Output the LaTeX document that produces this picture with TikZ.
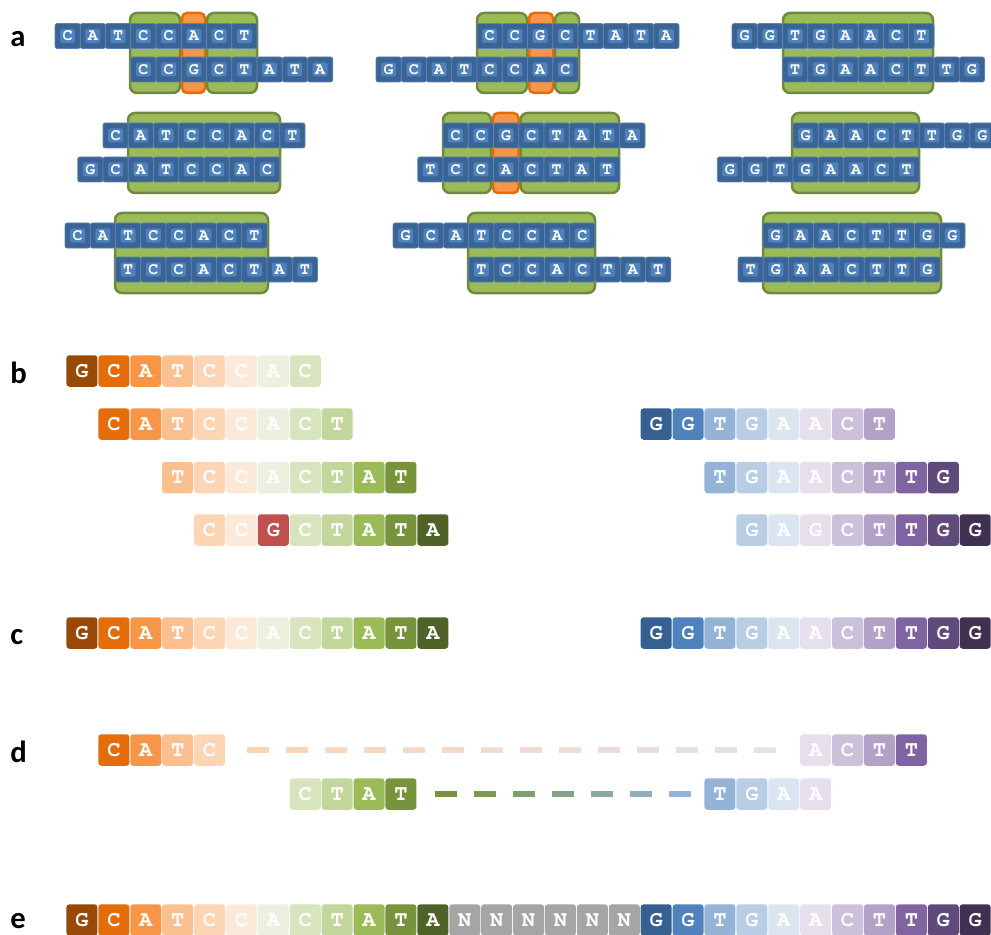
\documentclass[tikz,border=0pt]{standalone}
\usepackage{fontspec}
\setmainfont{Carlito}
\newfontfamily\basefont{TeX Gyre Cursor}
\usetikzlibrary{calc}

\newlength{\du}
\setlength{\du}{0.75pt}

% office palette
\definecolor{or1}{HTML}{984807}
\definecolor{or2}{HTML}{E46C0A}
\definecolor{or3}{HTML}{F79646}
\definecolor{or4}{HTML}{FAC090}
\definecolor{or5}{HTML}{FCD5B5}
\definecolor{or6}{HTML}{FDE9D9}
\definecolor{gr1}{HTML}{EBF1DE}
\definecolor{gr2}{HTML}{D7E4BD}
\definecolor{gr3}{HTML}{C3D69B}
\definecolor{gr4}{HTML}{9BBB59}
\definecolor{gr5}{HTML}{77933C}
\definecolor{gr6}{HTML}{4F6228}
\definecolor{bl1}{HTML}{366092}
\definecolor{bl2}{HTML}{4F81BD}
\definecolor{bl3}{HTML}{95B3D7}
\definecolor{bl4}{HTML}{B9CDE5}
\definecolor{bl5}{HTML}{DBE5F1}
\definecolor{pu1}{HTML}{E5E0EC}
\definecolor{pu2}{HTML}{CCC1DA}
\definecolor{pu3}{HTML}{B3A2C7}
\definecolor{pu4}{HTML}{8064A2}
\definecolor{pu5}{HTML}{604A7B}
\definecolor{pu6}{HTML}{403152}
\definecolor{mis}{HTML}{C0504D}
\definecolor{nn}{HTML}{A5A5A5}
\definecolor{readdark}{HTML}{3A6496}
\definecolor{readline}{HTML}{5A82B2}
\definecolor{boxedge}{HTML}{71893F}

\tikzset{
  readcell/.style={fill=readdark, draw=readline, line width=0.6\du, rounded corners=2\du,
    minimum width=25.25\du, minimum height=25\du, inner sep=0pt, text=white,
    font=\basefont\bfseries\fontsize{12.5}{14}\selectfont,
    path picture={\fill[bl2] ([shift={(-7.5\du,-7\du)}]path picture bounding box.center)
      rectangle ([shift={(7.5\du,7\du)}]path picture bounding box.center);}},
  seqcell/.style={rounded corners=3\du, minimum width=31\du, minimum height=31.5\du,
    inner sep=0pt, text=white, font=\basefont\bfseries\fontsize{16.5}{19}\selectfont},
  matchbox/.style={fill=gr4, draw=boxedge, line width=2.5\du, rounded corners=7\du},
  snpbox/.style={fill=or3, draw=or2, line width=2.5\du, rounded corners=5\du},
  panellabel/.style={anchor=base west, inner sep=0pt, font=\bfseries\fontsize{23}{27}\selectfont},
  gapdash/.style={line width=5.5\du},
}

\newcommand{\blueread}[4]{% name, left x, centre y, bases
  \foreach \base [count=\i from 0] in {#4}
    \node[readcell] (#1-\i) at ({#2+(\i+0.5)*25.25},#3) {\base};
}
\newcommand{\colorread}[4]{% name, first slot, centre y, colour/base
  \foreach \col/\base [count=\i from 0] in {#4}
    \node[seqcell, fill=\col] (#1-\i) at ({66+(#2+\i+0.5)*31.9},#3) {\base};
}

\begin{document}
\begin{tikzpicture}[x=\du,y=\du]
\pgftransformxscale{1.000000}
\pgftransformyscale{-1.000000}
\useasboundingbox (0,0) rectangle (991,934);

% a: overlapping reads
\draw[matchbox] (130,13) rectangle (180,93);
\draw[snpbox] (182,13) rectangle (205,93);
\draw[matchbox] (207,13) rectangle (257,93);
\draw[matchbox] (477,13) rectangle (527,93);
\draw[snpbox] (529,13) rectangle (553,93);
\draw[matchbox] (555,13) rectangle (579,93);
\draw[matchbox] (783,13) rectangle (933,93);
\draw[matchbox] (128,113) rectangle (280,193);
\draw[matchbox] (443,113) rectangle (491,193);
\draw[snpbox] (493,113) rectangle (518.5,193);
\draw[matchbox] (520.5,113) rectangle (619,193);
\draw[matchbox] (792,113) rectangle (919,193);
\draw[matchbox] (115,213) rectangle (268,293);
\draw[matchbox] (468,213) rectangle (595,293);
\draw[matchbox] (763,213) rectangle (941,293);

\blueread{ra1}{55}{36}{C,A,T,C,C,A,C,T}
\blueread{ra2}{130.75}{69.5}{C,C,G,C,T,A,T,A}
\blueread{rb1}{477}{36}{C,C,G,C,T,A,T,A}
\blueread{rb2}{376}{69.5}{G,C,A,T,C,C,A,C}
\blueread{rc1}{732}{36}{G,G,T,G,A,A,C,T}
\blueread{rc2}{782.5}{69.5}{T,G,A,A,C,T,T,G}
\blueread{rd1}{103}{135.5}{C,A,T,C,C,A,C,T}
\blueread{rd2}{77.75}{169.5}{G,C,A,T,C,C,A,C}
\blueread{re1}{443}{135.5}{C,C,G,C,T,A,T,A}
\blueread{re2}{417.75}{169.5}{T,C,C,A,C,T,A,T}
\blueread{rf1}{793}{135.5}{G,A,A,C,T,T,G,G}
\blueread{rf2}{717.25}{169.5}{G,G,T,G,A,A,C,T}
\blueread{rg1}{65}{235.5}{C,A,T,C,C,A,C,T}
\blueread{rg2}{115.5}{269.5}{T,C,C,A,C,T,A,T}
\blueread{rh1}{393}{235.5}{G,C,A,T,C,C,A,C}
\blueread{rh2}{468.75}{269.5}{T,C,C,A,C,T,A,T}
\blueread{ri1}{763}{235.5}{G,A,A,C,T,T,G,G}
\blueread{ri2}{738}{269.5}{T,G,A,A,C,T,T,G}

% b: reads coloured by place
\colorread{b1}{0}{371}{or1/G,or2/C,or3/A,or4/T,or5/C,or6/C,gr1/A,gr2/C}
\colorread{b2}{1}{424}{or2/C,or3/A,or4/T,or5/C,or6/C,gr1/A,gr2/C,gr3/T}
\colorread{b3}{3}{477.5}{or4/T,or5/C,or6/C,gr1/A,gr2/C,gr3/T,gr4/A,gr5/T}
\colorread{b4}{4}{530}{or5/C,or6/C,mis/G,gr2/C,gr3/T,gr4/A,gr5/T,gr6/A}
\colorread{b5}{18}{424}{bl1/G,bl2/G,bl3/T,bl4/G,bl5/A,pu1/A,pu2/C,pu3/T}
\colorread{b6}{20}{477.5}{bl3/T,bl4/G,bl5/A,pu1/A,pu2/C,pu3/T,pu4/T,pu5/G}
\colorread{b7}{21}{530}{bl4/G,bl5/A,pu1/G,pu2/C,pu3/T,pu4/T,pu5/G,pu6/G}

% c: contigs
\colorread{c1}{0}{633}{or1/G,or2/C,or3/A,or4/T,or5/C,or6/C,gr1/A,gr2/C,gr3/T,gr4/A,gr5/T,gr6/A}
\colorread{c2}{18}{633}{bl1/G,bl2/G,bl3/T,bl4/G,bl5/A,pu1/A,pu2/C,pu3/T,pu4/T,pu5/G,pu6/G}

% d: read pairs
\colorread{d1l}{1}{750}{or2/C,or3/A,or4/T,or5/C}
\colorread{d1r}{23}{750}{pu1/A,pu2/C,pu3/T,pu4/T}
\colorread{d2l}{7}{794}{gr2/C,gr3/T,gr4/A,gr5/T}
\colorread{d2r}{20}{794}{bl3/T,bl4/G,bl5/A,pu1/A}

\coordinate (g1s) at ($(d1l-3.east)+(22,0)$);
\coordinate (g1e) at ($(d1r-0.west)+(-23,0)$);
\foreach \k in {0,...,13} {
  \pgfmathtruncatemacro\mix{100-\k*100/13}
  \draw[gapdash, draw=or5!\mix!pu1] ($(g1s)!{\k*39/530}!(g1e)$) -- ($(g1s)!{(\k*39+22)/530}!(g1e)$);
}
\coordinate (g2s) at ($(d2l-3.east)+(18,0)$);
\coordinate (g2e) at ($(d2r-0.west)+(-13,0)$);
\foreach \k in {0,...,6} {
  \pgfmathtruncatemacro\mix{100-\k*100/6}
  \draw[gapdash, draw=gr5!\mix!bl3] ($(g2s)!{\k*39/256}!(g2e)$) -- ($(g2s)!{(\k*39+22)/256}!(g2e)$);
}

% e: scaffold
\colorread{e1}{0}{920}{or1/G,or2/C,or3/A,or4/T,or5/C,or6/C,gr1/A,gr2/C,gr3/T,gr4/A,gr5/T,gr6/A,nn/N,nn/N,nn/N,nn/N,nn/N,nn/N,bl1/G,bl2/G,bl3/T,bl4/G,bl5/A,pu1/A,pu2/C,pu3/T,pu4/T,pu5/G,pu6/G}

\node[panellabel] (la) at (10,47) {a};
\node[panellabel] (lb) at (10,383) {b};
\node[panellabel] (lc) at (10,644) {c};
\node[panellabel] (ld) at (10,762) {d};
\node[panellabel] (le) at (10,928) {e};
\end{tikzpicture}
\end{document}
